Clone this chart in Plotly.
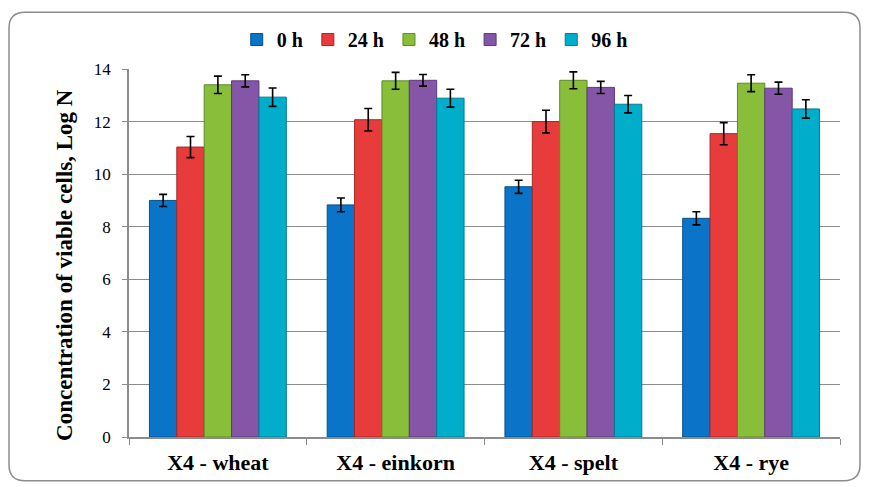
import plotly.graph_objects as go

categories = ["X4 - wheat", "X4 - einkorn", "X4 - spelt", "X4 - rye"]
series_names = ["0 h", "24 h", "48 h", "72 h", "96 h"]
vals_0h = [9.0, 8.83, 9.52, 8.32]
vals_24h = [11.03, 12.07, 12.0, 11.54]
vals_48h = [13.4, 13.55, 13.57, 13.46]
vals_72h = [13.55, 13.57, 13.3, 13.27]
vals_96h = [12.93, 12.89, 12.66, 12.48]
err_0h = [0.23, 0.26, 0.25, 0.25]
err_24h = [0.4, 0.43, 0.43, 0.42]
err_48h = [0.33, 0.32, 0.32, 0.32]
err_72h = [0.23, 0.22, 0.23, 0.23]
err_96h = [0.35, 0.34, 0.33, 0.35]
y_ticks = [0, 2, 4, 6, 8, 10, 12, 14]
y_title = "Concentration of viable cells, Log N"

values = [vals_0h, vals_24h, vals_48h, vals_72h, vals_96h]
errors = [err_0h, err_24h, err_48h, err_72h, err_96h]
colors = ["#0A74C8", "#E83B3B", "#88BE3A", "#8556A8", "#00AECB"]
edges = ["#06508A", "#A52828", "#5E8A26", "#5C3B78", "#007C92"]

FONT = "Liberation Serif, Times New Roman, serif"
OFF = 8  # page body margin
W, H = 869 - OFF, 487 - OFF
L, T = 129 - OFF, 67 - OFF
R = W - (840 - OFF)
B = H - (437 - OFF)
pw, ph = W - L - R, H - T - B

fig = go.Figure()
for name, v, e, c, ec in zip(series_names, values, errors, colors, edges):
    fig.add_trace(go.Bar(
        x=categories, y=v, name=name,
        marker=dict(color=c, line=dict(color=ec, width=1)),
        error_y=dict(type="data", array=e, visible=True, color="black",
                     thickness=1.6, width=4),
    ))

def px2paper(x, y):
    return (x - OFF - L) / pw, (H - B - (y - OFF)) / ph

def rounded_path(x0, y0, x1, y1, r):
    def p(x, y):
        a, b = px2paper(x, y)
        return f"{a:.5f},{b:.5f}"
    d = f"M {p(x0 + r, y0)} L {p(x1 - r, y0)} Q {p(x1, y0)} {p(x1, y0 + r)} "
    d += f"L {p(x1, y1 - r)} Q {p(x1, y1)} {p(x1 - r, y1)} "
    d += f"L {p(x0 + r, y1)} Q {p(x0, y1)} {p(x0, y1 - r)} "
    d += f"L {p(x0, y0 + r)} Q {p(x0, y0)} {p(x0 + r, y0)} Z"
    return d

fig.add_shape(type="path", xref="paper", yref="paper",
              path=rounded_path(9, 10, 860, 481, 16),
              line=dict(color="#8C8C8C", width=1.5), layer="below")

tx, ty = px2paper(65, 264)
fig.add_annotation(text=y_title, xref="paper", yref="paper", x=tx, y=ty,
                   xanchor="center", yanchor="middle", textangle=-90, showarrow=False,
                   font=dict(family=FONT, size=23, color="black", weight="bold"))

fig.update_layout(
    width=W, height=H,
    margin=dict(l=L, r=R, t=T, b=B),
    paper_bgcolor="white", plot_bgcolor="white",
    barmode="group", bargap=0.23, bargroupgap=0.0,
    font=dict(family=FONT, color="black"),
    showlegend=True,
    legend=dict(orientation="h", x=0.43, xanchor="center", y=1.08, yanchor="middle",
                font=dict(family=FONT, size=20, color="black", weight="bold"),
                itemwidth=30, tracegroupgap=0),
    xaxis=dict(showline=True, linecolor="#8C8C8C", linewidth=1.5,
               ticks="outside", tickson="boundaries", ticklen=6, tickcolor="#8C8C8C",
               ticklabelstandoff=5,
               tickfont=dict(family=FONT, size=22, color="black", weight="bold"),
               showgrid=False),
    yaxis=dict(range=[0, 14], tickvals=y_ticks, showline=True, linecolor="#8C8C8C",
               linewidth=1.5, ticks="outside", ticklen=5, tickcolor="#8C8C8C",
               ticklabelstandoff=8,
               tickfont=dict(family=FONT, size=17, color="black"),
               showgrid=True, gridcolor="#8C8C8C", gridwidth=1.3),
)

fig.write_html("out.html")
